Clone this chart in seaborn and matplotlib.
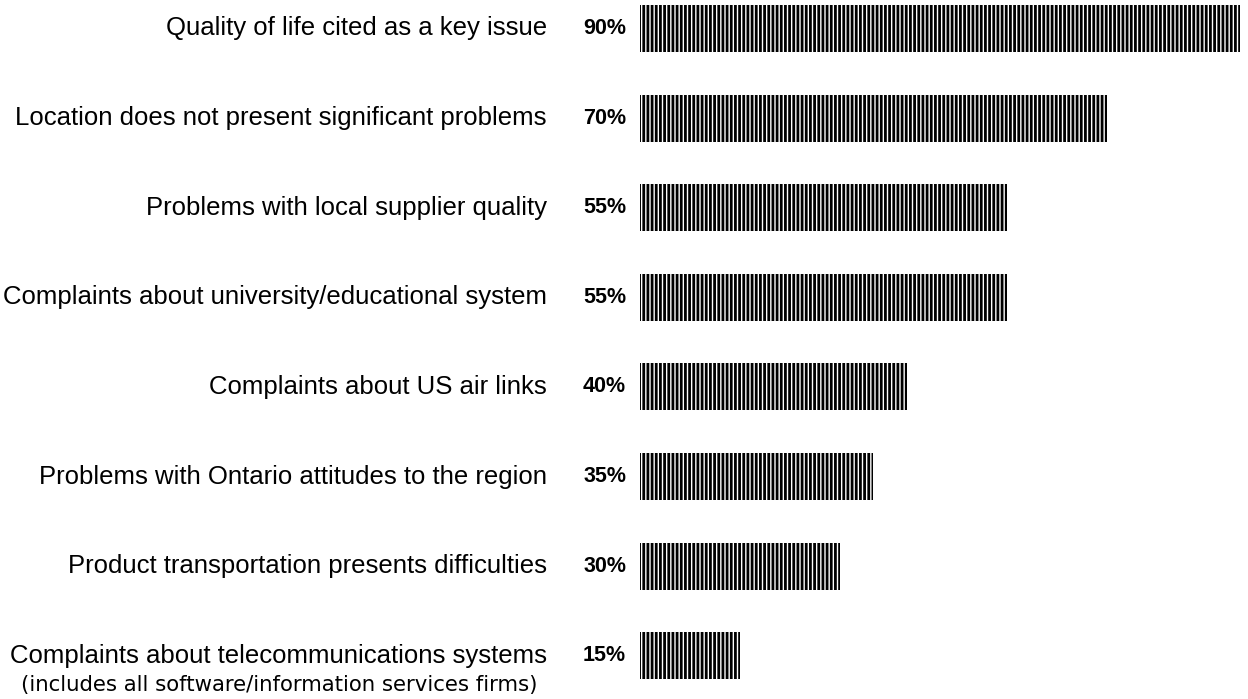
import matplotlib
matplotlib.use("Agg")
import matplotlib.pyplot as plt
import seaborn as sns
import pandas as pd

categories = [
    "Quality of life cited as a key issue",
    "Location does not present significant problems",
    "Problems with local supplier quality",
    "Complaints about university/educational system",
    "Complaints about US air links",
    "Problems with Ontario attitudes to the region",
    "Product transportation presents difficulties",
    "Complaints about telecommunications systems",
]
values = [90, 70, 55, 55, 40, 35, 30, 15]
value_labels = ["90%", "70%", "55%", "55%", "40%", "35%", "30%", "15%"]
footnote = "(includes all software/information services firms)"

sns.set_theme(style="white")
plt.rcParams["font.family"] = ["Liberation Sans", "DejaVu Sans"]
plt.rcParams["hatch.linewidth"] = 2.0

df = pd.DataFrame({"category": categories, "value": values})

fig = plt.figure(figsize=(12.48, 6.99), dpi=100)
ax = fig.add_axes([640 / 1248, 0, 600 / 1248, 1])
sns.barplot(data=df, x="value", y="category", orient="h", color="white",
            width=0.525, ax=ax)
for p in ax.patches:
    p.set_facecolor("white")
    p.set_edgecolor("black")
    p.set_linewidth(0)
    p.set_hatch("||||")

ax.set_xlim(0, 90)
ax.set_ylim(7.483, -0.318)
ax.set_xlabel("")
ax.set_ylabel("")
ax.set_xticks([])
ax.set_yticks([])
for s in ax.spines.values():
    s.set_visible(False)

for i, (cat, lab) in enumerate(zip(categories, value_labels)):
    ax.annotate(cat, xy=(0, i), xycoords=("data", "data"),
                xytext=(-67, 0), textcoords="offset points",
                ha="right", va="center", fontsize=18.5, color="black")
    ax.annotate(lab, xy=(0, i), xycoords=("data", "data"),
                xytext=(-41, 0), textcoords="offset points",
                ha="left", va="center", fontsize=15.5, fontweight="bold",
                color="black")

ax.annotate(footnote, xy=(0, len(categories) - 1), xycoords=("data", "data"),
            xytext=(-74, -21), textcoords="offset points",
            ha="right", va="center", fontsize=15.3, color="black",
            family=["DejaVu Sans"])

fig.savefig("out.png", dpi=100)
